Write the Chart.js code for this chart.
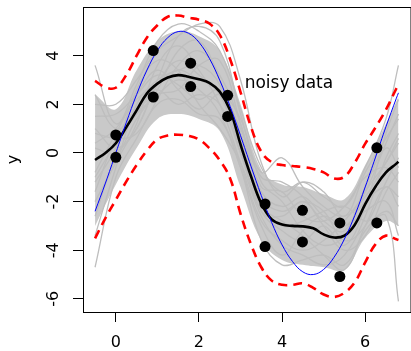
<!DOCTYPE html>
<html>
<head>
<meta charset="utf-8">
<script src="https://cdn.jsdelivr.net/npm/chart.js@4/dist/chart.umd.min.js"></script>
<style>
  html, body { margin: 0; padding: 0; background: #fff; overflow: hidden; }
  #wrap { width: 416px; height: 351px; }
</style>
</head>
<body>
<div id="wrap"><canvas id="gp" width="416" height="351"></canvas></div>
<script>
// observations
const obsX = [0, 0, 0.9, 0.9, 1.8, 1.8, 2.69, 2.69, 3.59, 3.59, 4.49, 4.49, 5.39, 5.39, 6.28, 6.28];
const obsY = [0.74, -0.18, 4.21, 2.30, 3.69, 2.73, 2.37, 1.50, -2.10, -3.85, -2.36, -3.66, -2.88, -5.08, 0.21, -2.88];

// fine grid for mean, bands, true curve
const gridX = [-0.5, -0.25, 0, 0.25, 0.5, 0.75, 1, 1.25, 1.5, 1.75, 2, 2.25, 2.5, 2.75, 3, 3.25,
  3.5, 3.75, 4, 4.25, 4.5, 4.75, 5, 5.25, 5.5, 5.75, 6, 6.25, 6.5, 6.75, 6.8];
const meanY = [-0.29, 0.0, 0.4, 1.05, 1.75, 2.45, 2.85, 3.1, 3.2, 3.13, 3.03, 2.88, 2.52, 1.75, 0.35, -0.95,
  -2.08, -2.73, -2.94, -3.0, -3.02, -3.1, -3.35, -3.48, -3.4, -2.95, -2.1, -1.38, -0.8, -0.44, -0.36];
const upperY = [2.96, 2.7, 2.68, 3.2, 4.0, 4.75, 5.25, 5.6, 5.65, 5.56, 5.48, 5.32, 4.85, 3.85, 2.5, 1.08,
  0.05, -0.38, -0.5, -0.54, -0.58, -0.66, -0.8, -1.05, -0.98, -0.4, 0.38, 1.05, 1.78, 2.65, 2.8];
const lowerY = [-3.51, -2.68, -1.93, -1.18, -0.5, 0.1, 0.56, 0.72, 0.75, 0.7, 0.55, 0.2, -0.3, -1.05, -2.5, -3.75,
  -4.7, -5.25, -5.42, -5.42, -5.36, -5.55, -5.82, -5.92, -5.75, -5.32, -4.5, -3.75, -3.4, -3.55, -3.58];
const trueY = [-2.40, -1.24, 0, 1.24, 2.40, 3.41, 4.21, 4.74, 4.99, 4.92, 4.55, 3.89, 2.99, 1.91, 0.71, -0.54,
  -1.75, -2.86, -3.78, -4.46, -4.89, -5.0, -4.79, -4.29, -3.54, -2.57, -1.40, -0.17, 1.08, 2.25, 2.47];

// coarse grid for the grey sample curves
const sampleX = [-0.5, 0, 0.5, 1, 1.5, 2, 2.5, 3, 3.5, 4, 4.5, 5, 5.5, 6, 6.5, 6.8];
const coreUp = [2.4, 1.8, 3.4, 4.6, 5.0, 4.8, 4.2, 2.0, -0.7, -1.3, -1.4, -1.7, -1.9, -0.5, 1.2, 2.3];
const coreLo = [-3.0, -1.3, 0.2, 1.4, 1.6, 1.4, 0.9, -1.4, -3.6, -4.4, -4.6, -4.7, -4.8, -3.5, -2.8, -3.0];
const samples = [
  [3.6, 1.2, 2.8, 4.6, 5.3, 5.0, 4.2, 1.8, -0.6, -1.6, -1.2, -1.8, -2.2, -0.6, 1.4, 3.6],
  [-4.7, -1.0, 0.6, 2.0, 2.2, 1.6, 1.4, -0.6, -3.6, -4.6, -4.4, -4.2, -4.6, -3.2, -2.4, -3.0],
  [1.5, 1.6, 2.4, 3.2, 2.8, 2.2, 2.6, 0.8, -1.6, -2.2, -1.8, -2.6, -3.0, -2.0, -1.4, -1.8],
  [-2.0, -0.4, 1.2, 3.6, 4.4, 3.4, 2.0, -0.4, -2.8, -3.6, -4.0, -3.6, -2.8, -1.6, 0.4, 1.6],
  [0.8, 0.6, 0.8, 2.2, 3.6, 4.2, 3.2, 1.2, -1.8, -2.4, -2.0, -2.4, -3.6, -3.0, -1.2, -0.2],
  [-1.2, 0.2, 2.6, 3.8, 3.4, 2.0, 1.0, -0.4, -2.6, -3.8, -4.2, -4.6, -4.2, -2.6, -0.2, 0.8],
  [2.4, 1.0, 1.6, 2.4, 2.6, 3.6, 3.8, 1.2, -1.4, -1.6, -2.6, -2.8, -2.2, -1.0, -0.6, -1.2],
  [-3.4, -0.6, 2.0, 3.0, 3.4, 3.6, 2.8, 0.0, -2.2, -2.8, -3.4, -4.2, -4.8, -3.0, -1.4, -2.2],
  [0.2, 0.0, 1.4, 2.6, 4.2, 4.6, 3.0, 0.6, -2.0, -3.0, -2.8, -2.4, -2.2, -2.8, -2.6, -6.1],
  [-0.8, 0.8, 2.2, 2.6, 2.0, 2.4, 2.0, 0.0, -2.4, -3.2, -3.6, -3.0, -3.8, -2.2, 0.8, 2.2],
  [1.0, 0.2, 1.0, 3.0, 4.8, 5.2, 4.6, 1.6, -1.2, -2.0, -3.2, -3.8, -3.4, -1.6, -0.4, 0.6],
  [-1.6, 0.6, 1.8, 2.4, 3.0, 2.6, 1.6, -0.6, -3.0, -4.2, -3.2, -2.6, -3.0, -2.4, -2.0, -3.4],
  [0.4, 1.0, 2.4, 3.4, 2.6, 1.8, 2.4, 1.0, -1.0, -1.2, -1.8, -3.0, -4.0, -3.4, -1.6, -0.8],
  [-2.6, -0.2, 1.0, 2.8, 3.8, 3.2, 2.4, 0.2, -2.4, -2.6, -2.0, -2.8, -3.2, -1.4, 0.2, -0.6],
  [2.0, 2.0, 3.0, 4.2, 4.8, 5.3, 5.2, 3.0, -0.4, -1.8, -1.2, -1.6, -2.6, -0.8, 0.6, 1.4],
  [-1.0, 0.4, 1.6, 2.8, 3.4, 3.0, 2.6, 1.4, -0.8, -0.2, -1.4, -2.2, -2.6, -1.8, -0.4, 0.4]
];

const xTicks = [0, 2, 4, 6];
const yTicks = [-6, -4, -2, 0, 2, 4];

const pts = (xs, ys) => xs.map((x, i) => ({ x: x, y: ys[i] }));
const line = (data, color, width, extra) => Object.assign({
  data: data, borderColor: color, borderWidth: width, pointRadius: 0, tension: 0.4, fill: false
}, extra || {});

const datasets = [
  { data: pts(obsX, obsY), showLine: false, pointRadius: 5.5, pointBackgroundColor: '#000', pointBorderWidth: 0 },
  line(pts(gridX, trueY), '#0000ff', 1),
  line(pts(gridX, upperY), '#ff0000', 2.6, { borderDash: [9, 6] }),
  line(pts(gridX, lowerY), '#ff0000', 2.6, { borderDash: [9, 6] }),
  line(pts(gridX, meanY), '#000', 2.6)
];
samples.forEach(s => datasets.push(line(pts(sampleX, s), '#bebebe', 1.3)));
datasets.push(line(pts(sampleX, coreUp), 'rgba(0,0,0,0)', 0, { fill: '+1', backgroundColor: '#c9c9c9' }));
datasets.push(line(pts(sampleX, coreLo), 'rgba(0,0,0,0)', 0));

// R style frame, rotated labels and annotation
const rDecor = {
  id: 'rDecor',
  afterDraw(chart) {
    const c = chart.ctx, a = chart.chartArea;
    const xs = chart.scales.x, ys = chart.scales.y;
    c.save();
    c.strokeStyle = '#000';
    c.lineWidth = 1;
    c.strokeRect(a.left + 0.5, a.top + 0.5, a.right - a.left, a.bottom - a.top);
    c.fillStyle = '#000';
    c.font = '16px "DejaVu Sans"';
    c.textAlign = 'center';
    c.textBaseline = 'middle';
    xTicks.forEach(v => c.fillText(String(v), xs.getPixelForValue(v), 342.5));
    yTicks.forEach(v => {
      c.save();
      c.translate(54, ys.getPixelForValue(v));
      c.rotate(-Math.PI / 2);
      c.fillText(String(v), 0, 0);
      c.restore();
    });
    c.save();
    c.translate(14, (a.top + a.bottom) / 2);
    c.rotate(-Math.PI / 2);
    c.fillText('y', 0, 0);
    c.restore();
    c.font = '17px "DejaVu Sans"';
    c.textAlign = 'left';
    c.textBaseline = 'alphabetic';
    c.fillText('noisy data', xs.getPixelForValue(3.1), ys.getPixelForValue(2.65));
    c.restore();
  }
};

new Chart(document.getElementById('gp'), {
  type: 'line',
  data: { datasets: datasets },
  options: {
    responsive: false,
    animation: false,
    layout: { padding: { top: 7, right: 2, left: 0, bottom: 0 } },
    plugins: { legend: { display: false }, tooltip: { enabled: false } },
    scales: {
      x: {
        type: 'linear', min: -0.79, max: 7.09,
        afterBuildTicks: s => { s.ticks = xTicks.map(v => ({ value: v })); },
        afterFit: s => { s.height = 39; },
        ticks: { display: false },
        border: { display: false },
        grid: { drawOnChartArea: false, drawTicks: true, tickLength: 10, color: '#000', lineWidth: 1 }
      },
      y: {
        type: 'linear', min: -6.54, max: 6.0,
        afterBuildTicks: s => { s.ticks = yTicks.map(v => ({ value: v })); },
        afterFit: s => { s.width = 83; },
        ticks: { display: false },
        border: { display: false },
        grid: { drawOnChartArea: false, drawTicks: true, tickLength: 10, color: '#000', lineWidth: 1 }
      }
    }
  },
  plugins: [rDecor]
});
</script>
</body>
</html>
